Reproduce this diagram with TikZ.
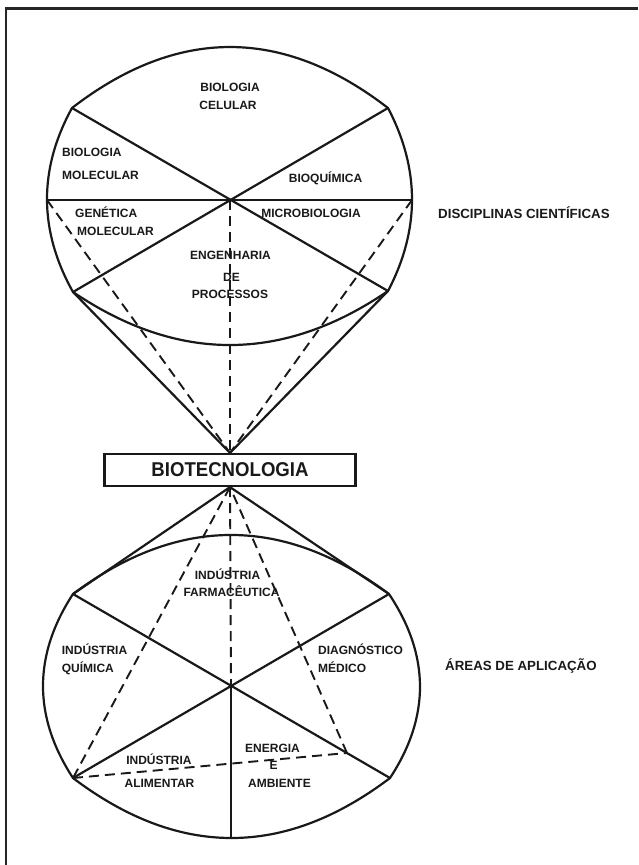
\documentclass[tikz,border=0pt]{standalone}
\usepackage{fontspec}
\usepackage{graphicx}
\newfontfamily\lbfont{Liberation Sans}
\usetikzlibrary{calc}
\begin{document}
\begin{tikzpicture}[x=1pt,y=-1pt,
  ink/.style={draw=black!90, line width=2.2pt, line join=round, line cap=round},
  dsh/.style={draw=black!90, line width=1.9pt, dash pattern=on 10pt off 6pt},
  frm/.style={draw=black!85, line width=2.4pt},
  lab/.style={font=\lbfont\bfseries\fontsize{12}{14}\selectfont, text=black!90, inner sep=0pt, anchor=base},
  labw/.style={lab, anchor=base west},
  sidelab/.style={font=\lbfont\bfseries\fontsize{13.3}{16}\selectfont, text=black!90, inner sep=0pt, anchor=base west},
  biobox/.style={draw=black!90, line width=2.2pt, minimum width=251pt, minimum height=32pt, inner sep=0pt,
    font=\lbfont\bfseries\fontsize{20}{24}\selectfont, text=black!90},
]
\useasboundingbox (0,0) rectangle (638,865);

% frame
\coordinate (fbl) at (6,865);
\coordinate (ftl) at (6,8.5);
\coordinate (ftr) at (638,8.5);
\draw[frm] (fbl) -- (ftl) -- (ftr);

% central box
\node[biobox] (bio) at (230,470) {\scalebox{0.93}[1]{BIOTECNOLOGIA}};

% ---------- upper shape ----------
\coordinate (c1) at (230,200);
\coordinate (ul) at (72,108);
\coordinate (ur) at (388,108);
\coordinate (ll) at (73,292);
\coordinate (lr) at (388,291);
\coordinate (l) at (47,200);
\coordinate (r) at (412,200);

\draw[ink] (ul) .. controls (177.3,26.7) and (282.7,26.7) .. (ur)
  .. controls (420,169) and (420,230) .. (lr)
  .. controls (283,362.7) and (178,363) .. (ll)
  .. controls (38.7,230.7) and (38.3,169.3) .. cycle;
\draw[ink] (ul) -- (lr);
\draw[ink] (ur) -- (ll);
\draw[ink] (l) -- (r);
\draw[ink] (ll) -- (bio.north);
\draw[ink] (lr) -- (bio.north);
\draw[dsh] (l) -- (bio.north);
\draw[dsh] (r) -- (bio.north);
\draw[dsh] (c1) -- (bio.north);

% ---------- lower shape ----------
\coordinate (c2) at (231,686);
\coordinate (ul2) at (73,594);
\coordinate (ur2) at (389,594);
\coordinate (ll2) at (73,778);
\coordinate (lr2) at (390,778);
\coordinate (bb) at (231,838);
\coordinate (p) at (347,753);

\draw[ink] (ul2) .. controls (178.3,515.3) and (283.7,515.3) .. (ur2)
  .. controls (430,655.3) and (430.3,716.7) .. (lr2)
  .. controls (284.3,858) and (178.7,858) .. (ll2)
  .. controls (33,716.7) and (33,655.3) .. cycle;
\draw[ink] (ul2) -- (lr2);
\draw[ink] (ur2) -- (ll2);
\draw[ink] (c2) -- (bb);
\draw[ink] (bio.south) -- (ul2);
\draw[ink] (bio.south) -- (ur2);
\draw[dsh] (bio.south) -- (ll2);
\draw[dsh] (ll2) -- (p);
\draw[dsh] (p) -- (bio.south);
\draw[dsh] (bio.south) -- (c2);

% ---------- labels, upper ----------
\node[lab] (t1) at (230,91) {BIOLOGIA};
\node[lab] (t2) at (228,109.3) {CELULAR};
\node[labw] (t3) at (62,156) {BIOLOGIA};
\node[labw] (t4) at (62,179.3) {MOLECULAR};
\node[lab] (t5) at (325.5,182.6) {BIOQUÍMICA};
\node[labw] (t6) at (75,217.6) {GENÉTICA};
\node[labw] (t7) at (77,235) {MOLECULAR};
\node[lab] (t8) at (311,217) {MICROBIOLOGIA};
\node[lab] (t9) at (230.5,259.3) {ENGENHARIA};
\node[lab] (t10) at (231.5,281.3) {DE};
\node[lab] (t11) at (230,298.3) {PROCESSOS};
\node[sidelab] (s1) at (438,218) {DISCIPLINAS CIENTÍFICAS};

% ---------- labels, lower ----------
\node[lab] (b1) at (227.5,579.3) {INDÚSTRIA};
\node[lab] (b2) at (231.5,596) {FARMACÊUTICA};
\node[labw] (b3) at (61.7,654.3) {INDÚSTRIA};
\node[labw] (b4) at (61.7,672.3) {QUÍMICA};
\node[labw] (b5) at (318,654.3) {DIAGNÓSTICO};
\node[labw] (b6) at (318,672.3) {MÉDICO};
\node[lab] (b7) at (272.5,752.3) {ENERGIA};
\node[lab] (b8) at (273.5,769.3) {E};
\node[lab] (b9) at (279.5,787) {AMBIENTE};
\node[lab] (b10) at (159,764.3) {INDÚSTRIA};
\node[lab] (b11) at (159.5,787) {ALIMENTAR};
\node[sidelab] (s2) at (445,670.5) {ÁREAS DE APLICAÇÃO};
\end{tikzpicture}
\end{document}
